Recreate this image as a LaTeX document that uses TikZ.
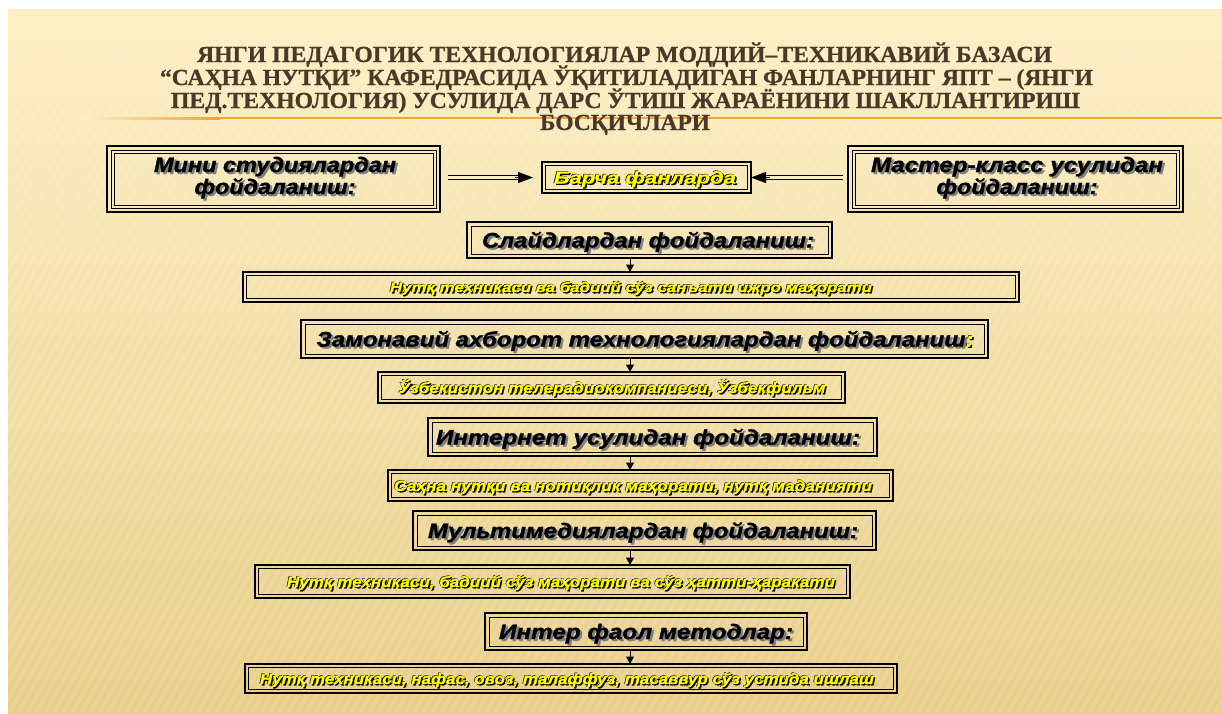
\documentclass[tikz,border=0pt]{standalone}
\usepackage{graphicx}
\usepackage{fontspec}
\setmainfont[BoldFeatures={FakeBold=0.8}]{Liberation Serif}
\newfontfamily\arialfont[BoldItalicFeatures={FakeBold=1.3}]{Liberation Sans}
\usetikzlibrary{arrows.meta,calc}
\definecolor{bgtop}{HTML}{FDF0C6}
\definecolor{bgmid}{HTML}{F5E0A4}
\definecolor{bgbot}{HTML}{E8CE88}
\definecolor{titlec}{HTML}{4A3828}
\definecolor{orline}{HTML}{F2A33A}
\definecolor{ytext}{HTML}{FFFF00}
\newcommand{\ylw}[1]{\leavevmode\rlap{\kern1.3pt\raisebox{-1.3pt}{\textcolor{black}{#1}}}\rlap{\kern-0.5pt\raisebox{0.5pt}{\textcolor{black}{#1}}}\textcolor{ytext}{#1}}
\newcommand{\blk}[1]{\leavevmode\rlap{\kern2pt\raisebox{-2pt}{\textcolor{black!50}{#1}}}\textcolor{black}{#1}}
\newcommand{\fw}[2]{\resizebox{#1}{\height}{#2}}
\newcommand{\bfi}{\arialfont\bfseries\itshape}
\tikzset{
  boxn/.style={rectangle, draw=none, inner sep=0pt, outer sep=0pt},
  outerln/.style={draw=black, line width=2.4pt},
  innerln/.style={draw=black, line width=0.9pt},
  thinouter/.style={draw=black, line width=1.6pt},
  bigtxt/.style={anchor=base, inner sep=0pt, font=\bfi\fontsize{21}{22}\selectfont},
  ytxt/.style={anchor=base, inner sep=0pt, font=\bfi\fontsize{15}{16}\selectfont},
  titletxt/.style={anchor=base, inner sep=0pt, text=titlec, font=\bfseries\fontsize{23}{23}\selectfont},
  dblline/.style={draw=black, line width=1.3pt, double=bgtop, double distance=2.4pt},
  tipln/.style={draw=black, line width=1pt, -{Triangle[length=15pt,width=11pt]}},
  varrow/.style={draw=black, line width=1pt, -{Triangle[length=7.5pt,width=8pt]}},
}
\newcommand{\frameTwo}[2]{%
  \draw[outerln] (#1.north west) rectangle (#1.south east);
  \draw[innerln] ([shift={(#2,#2)}]#1.north west) rectangle ([shift={(-#2,-#2)}]#1.south east);}
\newcommand{\frameThin}[2]{%
  \draw[thinouter] (#1.north west) rectangle (#1.south east);
  \draw[innerln] ([shift={(#2,#2)}]#1.north west) rectangle ([shift={(-#2,-#2)}]#1.south east);}
\newcommand{\frameThree}[1]{%
  \draw[outerln] (#1.north west) rectangle (#1.south east);
  \draw[innerln] ([shift={(4,4)}]#1.north west) rectangle ([shift={(-4,-4)}]#1.south east);
  \draw[innerln] ([shift={(7,7)}]#1.north west) rectangle ([shift={(-7,-7)}]#1.south east);}
\begin{document}
\begin{tikzpicture}[x=1pt,y=-1pt]
\useasboundingbox (0,0) rectangle (1222,713);
% background
\fill[white] (0,0) rectangle (1222,713);
\shade[top color=bgtop, middle color=bgmid, bottom color=bgbot] (8,9) rectangle (1222,713);
\begin{scope}
  \clip (8,45) rectangle (1222,713);
  \foreach \i in {-50,...,140}
    \draw[white, opacity=0.10, line width=4pt] ({\i*9},713) -- ({\i*9+380},45);
\end{scope}
% orange rule
\shade[left color=bgtop, right color=orline] (80,117) rectangle (220,119);
\fill[orline] (220,117) rectangle (1222,119);
% title
\node[titletxt] (t1) at (624.5,62) {\fw{855pt}{ЯНГИ ПЕДАГОГИК ТЕХНОЛОГИЯЛАР МОДДИЙ–ТЕХНИКАВИЙ БАЗАСИ}};
\node[titletxt] (t2) at (626.5,85) {\fw{933pt}{“САҲНА НУТҚИ” КАФЕДРАСИДА ЎҚИТИЛАДИГАН ФАНЛАРНИНГ ЯПТ – (ЯНГИ}};
\node[titletxt] (t3) at (625.5,108) {\fw{909pt}{ПЕД.ТЕХНОЛОГИЯ) УСУЛИДА ДАРС ЎТИШ ЖАРАЁНИНИ ШАКЛЛАНТИРИШ}};
\node[titletxt] (t4) at (625,130) {\fw{170pt}{БОСҚИЧЛАРИ}};
% boxes
\node[boxn, minimum width=333pt, minimum height=66pt] (mini) at (273.5,179) {};
\node[boxn, minimum width=209pt, minimum height=31pt] (barcha) at (646.5,177.5) {};
\node[boxn, minimum width=335pt, minimum height=66pt] (master) at (1015.5,179) {};
\node[boxn, minimum width=365pt, minimum height=36pt] (slayd) at (649.5,240) {};
\node[boxn, minimum width=776pt, minimum height=30pt] (nutqa) at (631,287) {};
\node[boxn, minimum width=687pt, minimum height=38pt] (zamon) at (644.5,339) {};
\node[boxn, minimum width=467pt, minimum height=31pt] (uzb) at (611.5,387.5) {};
\node[boxn, minimum width=449pt, minimum height=38pt] (internet) at (652.5,437) {};
\node[boxn, minimum width=505pt, minimum height=31pt] (sahna) at (640.5,485.5) {};
\node[boxn, minimum width=463pt, minimum height=39pt] (multi) at (644.5,530.5) {};
\node[boxn, minimum width=595pt, minimum height=33pt] (nutqb) at (552.5,581.5) {};
\node[boxn, minimum width=322pt, minimum height=37pt] (inter) at (646,631.5) {};
\node[boxn, minimum width=652pt, minimum height=29pt] (nutqc) at (571,678.5) {};
\frameThree{mini}
\frameThree{master}
\frameThin{barcha}{3.5}
\frameTwo{slayd}{4}
\frameThin{nutqa}{3.5}
\frameTwo{zamon}{4}
\frameThin{uzb}{3.5}
\frameTwo{internet}{4}
\frameThin{sahna}{3.5}
\frameTwo{multi}{4}
\frameThin{nutqb}{3.5}
\frameTwo{inter}{4}
\frameThin{nutqc}{3.5}
% texts
\node[bigtxt] (miniA) at (275,172) {\fw{242pt}{\blk{Мини студиялардан}}};
\node[bigtxt] (miniB) at (275,194) {\fw{161pt}{\blk{фойдаланиш:}}};
\node[bigtxt] (masterA) at (1017,172) {\fw{292pt}{\blk{Мастер-класс усулидан}}};
\node[bigtxt] (masterB) at (1017,194) {\fw{161pt}{\blk{фойдаланиш:}}};
\node[ytxt, font=\bfi\fontsize{17}{18}\selectfont] (barchaT) at (645,183.5) {\fw{182pt}{\ylw{Барча фанларда}}};
\node[bigtxt] (slaydT) at (648,247.5) {\fw{332pt}{\blk{Слайдлардан фойдаланиш:}}};
\node[ytxt, font=\bfi\fontsize{14}{15}\selectfont] (nutqaT) at (631,292) {\fw{482pt}{\ylw{Нутқ техникаси ва бадиий сўз санъати ижро маҳорати}}};
\node[bigtxt] (zamonT) at (645,346.5) {\fw{657pt}{\blk{Замонавий ахборот технологиялардан фойдаланиш}\ylw{:}}};
\node[ytxt] (uzbT) at (612,393) {\fw{427pt}{\ylw{Ўзбекистон телерадиокомпаниеси, Ўзбекфильм}}};
\node[bigtxt] (internetT) at (648,444.5) {\fw{424pt}{\blk{Интернет усулидан фойдаланиш:}}};
\node[ytxt] (sahnaT) at (633,491) {\fw{478pt}{\ylw{Саҳна нутқи ва нотиқлик маҳорати, нутқ маданияти}}};
\node[bigtxt] (multiT) at (643,538) {\fw{430pt}{\blk{Мультимедиялардан фойдаланиш:}}};
\node[ytxt] (nutqbT) at (561,587) {\fw{548pt}{\ylw{Нутқ техникаси, бадиий сўз маҳорати ва сўз ҳатти-ҳаракати}}};
\node[bigtxt] (interT) at (646,639) {\fw{294pt}{\blk{Интер фаол методлар:}}};
\node[ytxt] (nutqcT) at (567,684) {\fw{614pt}{\ylw{Нутқ техникаси, нафас, овоз, талаффуз, тасаввур сўз устида ишлаш}}};
% horizontal arrows
\draw[dblline, shorten <=8pt, shorten >=24pt] (mini.east |- barcha.west) -- (barcha.west);
\draw[tipln, shorten <=75pt, shorten >=9pt] (mini.east |- barcha.west) -- (barcha.west);
\draw[dblline, shorten <=5pt, shorten >=15pt] (master.west |- barcha.east) -- (barcha.east);
\draw[tipln, shorten <=78pt, shorten >=0pt] (master.west |- barcha.east) -- (barcha.east);
% vertical arrows
\coordinate (ax) at (630,0);
\draw[varrow] (slayd.south -| ax) -- (nutqa.north -| ax);
\draw[varrow] (zamon.south -| ax) -- (uzb.north -| ax);
\draw[varrow] (internet.south -| ax) -- (sahna.north -| ax);
\draw[varrow] (multi.south -| ax) -- (nutqb.north -| ax);
\draw[varrow] (inter.south -| ax) -- (nutqc.north -| ax);
\end{tikzpicture}
\end{document}
